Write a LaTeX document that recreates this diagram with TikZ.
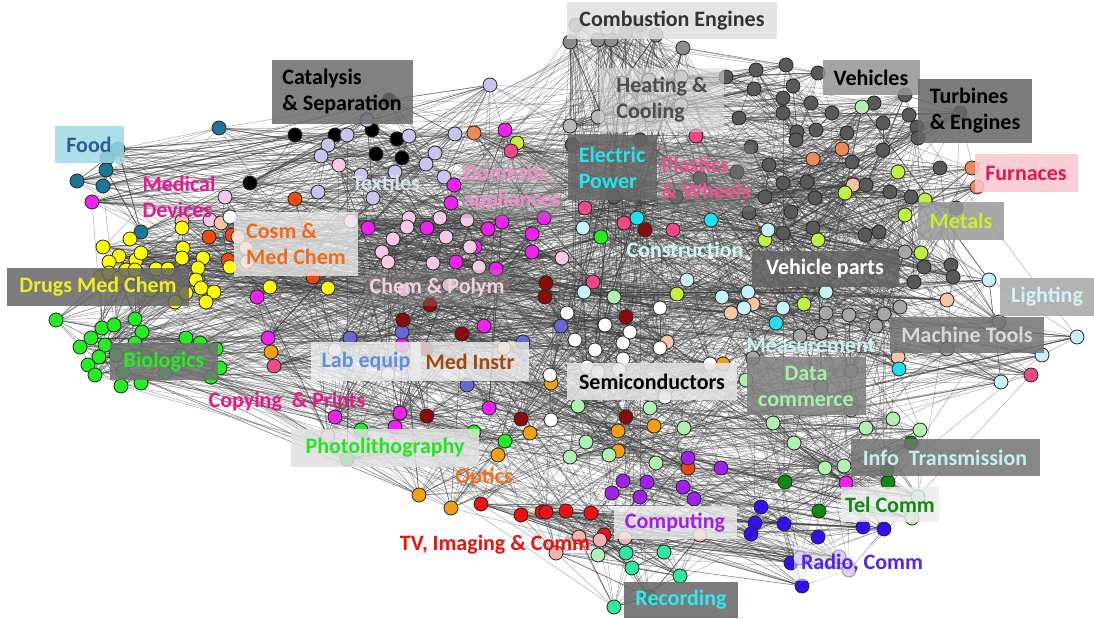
\documentclass[tikz,border=0pt]{standalone}
\usepackage{fontspec}
\setmainfont{Carlito}
\usetikzlibrary{positioning}
\pgfdeclarelayer{bg}
\pgfsetlayers{bg,main}

\definecolor{foodc}{HTML}{1B7895}
\definecolor{magc}{HTML}{F020F0}
\definecolor{lavc}{HTML}{C8C4F0}
\definecolor{lpinkc}{HTML}{F8C8E8}
\definecolor{cosmc}{HTML}{F04A0A}
\definecolor{peachc}{HTML}{F8C4A4}
\definecolor{drugc}{HTML}{FFFF00}
\definecolor{bioc}{HTML}{22EE22}
\definecolor{orngc}{HTML}{F0A010}
\definecolor{pbluec}{HTML}{6868D0}
\definecolor{dredc}{HTML}{8B0A0A}
\definecolor{ygrnc}{HTML}{C0F040}
\definecolor{salmc}{HTML}{F08858}
\definecolor{plastc}{HTML}{F04888}
\definecolor{elecc}{HTML}{20E0F0}
\definecolor{constrc}{HTML}{C8F0F8}
\definecolor{datac}{HTML}{B0F0B0}
\definecolor{telc}{HTML}{108A10}
\definecolor{compc}{HTML}{A020F0}
\definecolor{radioc}{HTML}{3010F0}
\definecolor{radlc}{HTML}{B8A8F8}
\definecolor{tvc}{HTML}{F01010}
\definecolor{tvlc}{HTML}{F8B0B0}
\definecolor{recc}{HTML}{30E8A0}

\newcount\ndc
\newcommand{\netnodes}[2]{\foreach \px/\py in {#2} {\global\advance\ndc by 1\relax \node[#1] (n\the\ndc) at (\px,\py) {};}}

\tikzset{
  dot/.style={circle, draw=black!85, line width=0.4pt, minimum size=7pt, inner sep=0pt},
  food/.style={dot, fill=foodc}, mag/.style={dot, fill=magc}, cat/.style={dot, fill=black},
  lav/.style={dot, fill=lavc}, lpink/.style={dot, fill=lpinkc}, cosm/.style={dot, fill=cosmc},
  peach/.style={dot, fill=peachc}, semi/.style={dot, fill=white}, drug/.style={dot, fill=drugc},
  bio/.style={dot, fill=bioc}, orng/.style={dot, fill=orngc}, pblue/.style={dot, fill=pbluec},
  dred/.style={dot, fill=dredc}, comb/.style={dot, fill=black!45}, heat/.style={dot, fill=black!28},
  veh/.style={dot, fill=black!65}, mgray/.style={dot, fill=black!35}, ygrn/.style={dot, fill=ygrnc},
  salm/.style={dot, fill=salmc}, plast/.style={dot, fill=plastc}, elec/.style={dot, fill=elecc},
  constr/.style={dot, fill=constrc}, data/.style={dot, fill=datac}, tel/.style={dot, fill=telc},
  comp/.style={dot, fill=compc}, radio/.style={dot, fill=radioc}, radl/.style={dot, fill=radlc},
  tv/.style={dot, fill=tvc}, tvl/.style={dot, fill=tvlc}, rec/.style={dot, fill=recc},
  link/.style={draw=black!75, line width=0.25pt, opacity=0.42},
  lab/.style={font=\fontsize{11}{13}\selectfont\bfseries, inner sep=0pt},
  box/.style={lab, fill opacity=0.85, text opacity=1},
}

\begin{document}
\begin{tikzpicture}[x=0.5pt, y=-0.5pt]
\begin{pgfonlayer}{bg}
\fill[white] (0,0) rectangle (1094,619);
\end{pgfonlayer}
\useasboundingbox (0,0) rectangle (1094,619);

% clusters
\netnodes{food}{118/149,107/158,106/170,77/181,103/186,219/128,141/232}
\netnodes{cat}{295/135,335/135,372/130,397/139,376/154,402/158,250/183,389/100}
\netnodes{lav}{347/135,328/145,321/156,409/136,455/134,435/153,426/164,444/177,318/192,373/198,367/120,490/85,361/175,395/172}
\netnodes{mag}{92/202,257/297,268/338,368/228,427/228,451/203,454/185,456/262,475/247,488/229,496/269,502/222,505/130,532/234,532/252,544/218,484/326,402/345,400/413,395/427,489/408,335/417,846/483}
\netnodes{lpink}{339/165,351/221,409/218,407/227,393/239,382/252,388/262,433/263,440/218,446/237,467/220,470/247,479/267,404/290,449/285,335/350,388/374,328/436,225/197,210/220,562/258}
\netnodes{cosm}{209/237,232/235,228/260,295/199,313/277,688/468}
\netnodes{peach}{182/221,221/223,238/237,246/248,247/262,504/348,667/342,731/313,753/304,853/185,898/357,947/300}
\netnodes{drug}{103/247,119/256,136/260,141/253,130/239,109/262,156/269,168/269,183/248,182/258,182/228,203/258,198/268,196/280,201/288,214/292,206/302,230/267,270/287,328/288,100/277,109/273,119/278,126/270,135/270,175/302,186/293,150/290,165/285}
\netnodes{bio}{56/320,102/328,114/325,135/319,142/332,91/338,105/345,80/347,99/357,88/365,95/375,121/386,141/383,186/338,200/343,216/349,220/368,135/343,116/355,144/357,181/355,211/377,123/372,165/373,601/237,361/430,474/432,505/441,347/459}
\netnodes{orng}{271/352,530/433,498/455,419/495,451/508,551/383,618/431,654/426,618/451,723/364}
\netnodes{pblue}{350/338,402/332,523/342,467/385,561/326}
\netnodes{dred}{403/320,462/334,426/349,427/416,521/419,430/305,546/283,545/297,645/230,626/317,626/417}
\netnodes{semi}{230/217,567/313,660/308,623/343,623/359,660/348,587/367,598/372,619/370,550/375,551/420,710/364,665/397,595/350,630/332,575/340,605/325}
\netnodes{comb}{576/25,570/42,611/40,626/32,656/35,683/48,640/25,598/40}
\netnodes{heat}{621/83,649/80,681/77,681/105,598/117,570/126,620/110,650/115}
\netnodes{veh}{786/65,818/73,756/70,726/77,754/89,793/86,783/98,811/103,783/113,832/113,874/103,739/118,816/130,797/132,796/140,847/133,883/123,909/115,905/95,917/127,918/138,960/113,883/150,852/162,866/185,807/182,783/183,769/165,765/197,791/212,813/228,783/233,749/213,815/198,890/192,911/197,940/168,865/235,879/232,951/265,953/277,924/267,914/282,640/140,572/145,614/197,676/197,700/178,737/172,751/147,956/208}
\netnodes{mgray}{826/313,849/315,884/314,900/307,800/336,821/333,876/326,947/349,753/358,821/387,851/371,851/410,905/252,999/322}
\netnodes{ygrn}{517/143,898/172,845/193,905/215,925/200,921/253,765/240,818/240,804/304,677/294}
\netnodes{salm}{474/133,813/159,842/149,972/168,977/187}
\netnodes{plast}{511/151,696/136,585/208,624/223,673/230,593/282,1031/375,274/366}
\netnodes{elec}{637/218,711/220,776/323,899/369}
\netnodes{constr}{583/228,768/230,687/280,584/292,722/297,748/292,826/292,989/280,744/308,783/308,1077/337,1042/355,1001/382}
\netnodes{data}{607/28,862/107,614/297,578/406,650/408,684/428,586/442,570/457,609/455,656/463,773/423,794/443,746/380,866/428,893/419,920/430,825/468,844/466,918/497,912/518,598/555}
\netnodes{tel}{785/482,819/511,888/482,911/443,887/470}
\netnodes{comp}{688/458,721/468,623/481,647/482,683/487,612/493,640/497,694/499}
\netnodes{radio}{761/507,755/523,751/534,784/524,818/537,863/527,884/529,791/563,802/586}
\netnodes{radl}{800/558,839/557,849/570}
\netnodes{tv}{481/504,521/515,542/512,546/512,566/511,591/513,604/535}
\netnodes{tvl}{556/553,579/537,600/540,625/538,700/535}
\netnodes{rec}{626/553,664/552,632/568,680/576,614/607,649/597}
\edef\nn{\the\ndc}

% links
\pgfmathsetseed{4711}
\begin{pgfonlayer}{bg}
\foreach \i in {1,...,\nn} {
  \pgfmathtruncatemacro\lo{max(1,\i-12)}
  \pgfmathtruncatemacro\hi{min(\nn,\i+12)}
  \foreach \k in {1,...,10} {
    \pgfmathrandominteger{\j}{\lo}{\hi}
    \ifnum\i=\j\else \draw[link] (n\i) -- (n\j); \fi
  }
  \foreach \k in {1,2,3} {
    \pgfmathrandominteger{\j}{1}{\nn}
    \ifnum\i=\j\else \draw[link] (n\i) -- (n\j); \fi
  }
}
\end{pgfonlayer}

% labels
\node[box, fill=black!12, text=black!80, minimum width=105pt, minimum height=18.5pt] (combl) at (672,21) {Combustion Engines};
\node[box, fill=black!58, text=black, align=left, minimum width=70.5pt, minimum height=32pt] (catl) at (342,92) {Catalysis\\\& Separation};
\node[box, fill=black!15, fill opacity=0.6, text=black!70, align=left, minimum width=62pt, minimum height=32pt] (heatl) at (662,100) {Heating \&\\Cooling};
\node[box, fill=black!42, text=black, minimum width=48.5pt, minimum height=17.5pt] (vehl) at (871,78) {Vehicles};
\node[box, fill=black!60, text=black, align=left, minimum width=57pt, minimum height=32pt] (turbl) at (975,111) {Turbines\\\& Engines};
\node[box, fill={rgb,255:red,249;green,198;blue,208}, text={rgb,255:red,232;green,23;blue,79}, minimum width=51.5pt, minimum height=19pt] (furnl) at (1026,173) {Furnaces};
\node[box, fill={rgb,255:red,159;green,217;blue,230}, text={rgb,255:red,44;green,94;blue,142}, minimum width=34.5pt, minimum height=18.5pt] (foodl) at (89,145) {Food};
\node[lab, text={rgb,255:red,232;green,23;blue,154}, align=left] (medl) at (179,197) {Medical\\Devices};
\node[lab, text={rgb,255:red,214;green,230;blue,238}] (textl) at (386,183) {Textiles};
\node[box, fill=black!45, fill opacity=0.35, text={rgb,255:red,240;green,140;blue,200}, align=left, minimum width=50pt, minimum height=30pt] (domel) at (512,188) {Domestic\\appliances};
\node[box, fill=black!60, text={rgb,255:red,34;green,230;blue,236}, align=left, minimum width=44.5pt, minimum height=32.5pt] (elecl) at (612,168) {Electric\\Power};
\node[box, fill=black!45, fill opacity=0.35, text={rgb,255:red,240;green,80;blue,144}, align=left, minimum width=48pt, minimum height=33pt] (plastl) at (706,178) {Plastics\\\& Wheels};
\node[box, fill=black!6, fill opacity=0.75, text={rgb,255:red,240;green,106;blue,26}, align=left, minimum width=62pt, minimum height=32pt] (cosml) at (296,244) {Cosm \&\\Med Chem};
\node[box, fill=black!60, text={rgb,255:red,238;green,238;blue,34}, minimum width=91pt, minimum height=19pt] (drugl) at (98,287) {Drugs Med Chem};
\node[box, fill=black!40, fill opacity=0.3, text={rgb,255:red,244;green,208;blue,220}, minimum width=72pt, minimum height=18pt] (cheml) at (437,288) {Chem \& Polym};
\node[lab, text={rgb,255:red,204;green,248;blue,248}] (constl) at (685,250) {Construction};
\node[box, fill=black!62, text=white, minimum width=73.5pt, minimum height=18pt] (vpartl) at (825,269) {Vehicle parts};
\node[box, fill=black!40, text={rgb,255:red,200;green,240;blue,40}, minimum width=43pt, minimum height=19pt] (metall) at (961,221) {Metals};
\node[box, fill=black!35, text={rgb,255:red,212;green,242;blue,250}, minimum width=47pt, minimum height=19pt] (lightl) at (1047,297) {Lighting};
\node[box, fill=black!55, text=black!15, minimum width=77pt, minimum height=18pt] (mtooll) at (967,335) {Machine Tools};
\node[lab, text={rgb,255:red,200;green,240;blue,240}] (measl) at (811,345) {Measurement};
\node[box, fill=black!50, text={rgb,255:red,168;green,240;blue,168}, align=center, minimum width=59.5pt, minimum height=29pt] (datal) at (806,386) {Data\\commerce};
\node[box, fill=black!55, text={rgb,255:red,34;green,238;blue,34}, minimum width=54pt, minimum height=18.5pt] (biol) at (164,362) {Biologics};
\node[box, fill=black!6, fill opacity=0.8, text={rgb,255:red,95;green,143;blue,224}, minimum width=55pt, minimum height=19.5pt] (labl) at (366,362) {Lab equip};
\node[box, fill=black!8, fill opacity=0.8, text={rgb,255:red,163;green,71;blue,15}, minimum width=59pt, minimum height=19.5pt] (minsl) at (470,362) {Med Instr};
\node[box, fill=black!10, text=black, minimum width=85pt, minimum height=18.5pt] (semil) at (652,382) {Semiconductors};
\node[lab, text={rgb,255:red,232;green,23;blue,140}] (copyl) at (287,402) {Copying~~\& Prints};
\node[box, fill=black!12, text={rgb,255:red,34;green,230;blue,34}, minimum width=94pt, minimum height=19pt] (photl) at (385,448) {Photolithography};
\node[box, fill=black!55, text={rgb,255:red,196;green,240;blue,240}, minimum width=94.5pt, minimum height=18.5pt] (infol) at (945,458) {Info~~Transmission};
\node[lab, text={rgb,255:red,240;green,112;blue,32}] (optl) at (484,478) {Optics};
\node[box, fill=black!8, fill opacity=0.8, text={rgb,255:red,18;green,138;blue,18}, minimum width=49pt, minimum height=17.5pt] (tell) at (890,505) {Tel Comm};
\node[box, fill=black!8, fill opacity=0.8, text={rgb,255:red,162;green,30;blue,240}, minimum width=61.5pt, minimum height=16.5pt] (compl) at (675,523) {Computing};
\node[lab, text={rgb,255:red,238;green,17;blue,17}] (tvlab) at (495,545) {TV, Imaging \& Comm};
\node[box, fill=white, fill opacity=0.5, text={rgb,255:red,85;green,34;blue,238}, minimum width=68pt, minimum height=18pt] (radiol) at (862,563) {Radio, Comm};
\node[box, fill=black!60, text={rgb,255:red,51;green,230;blue,240}, minimum width=57pt, minimum height=18pt] (recl) at (681,600) {Recording};
\end{tikzpicture}
\end{document}
